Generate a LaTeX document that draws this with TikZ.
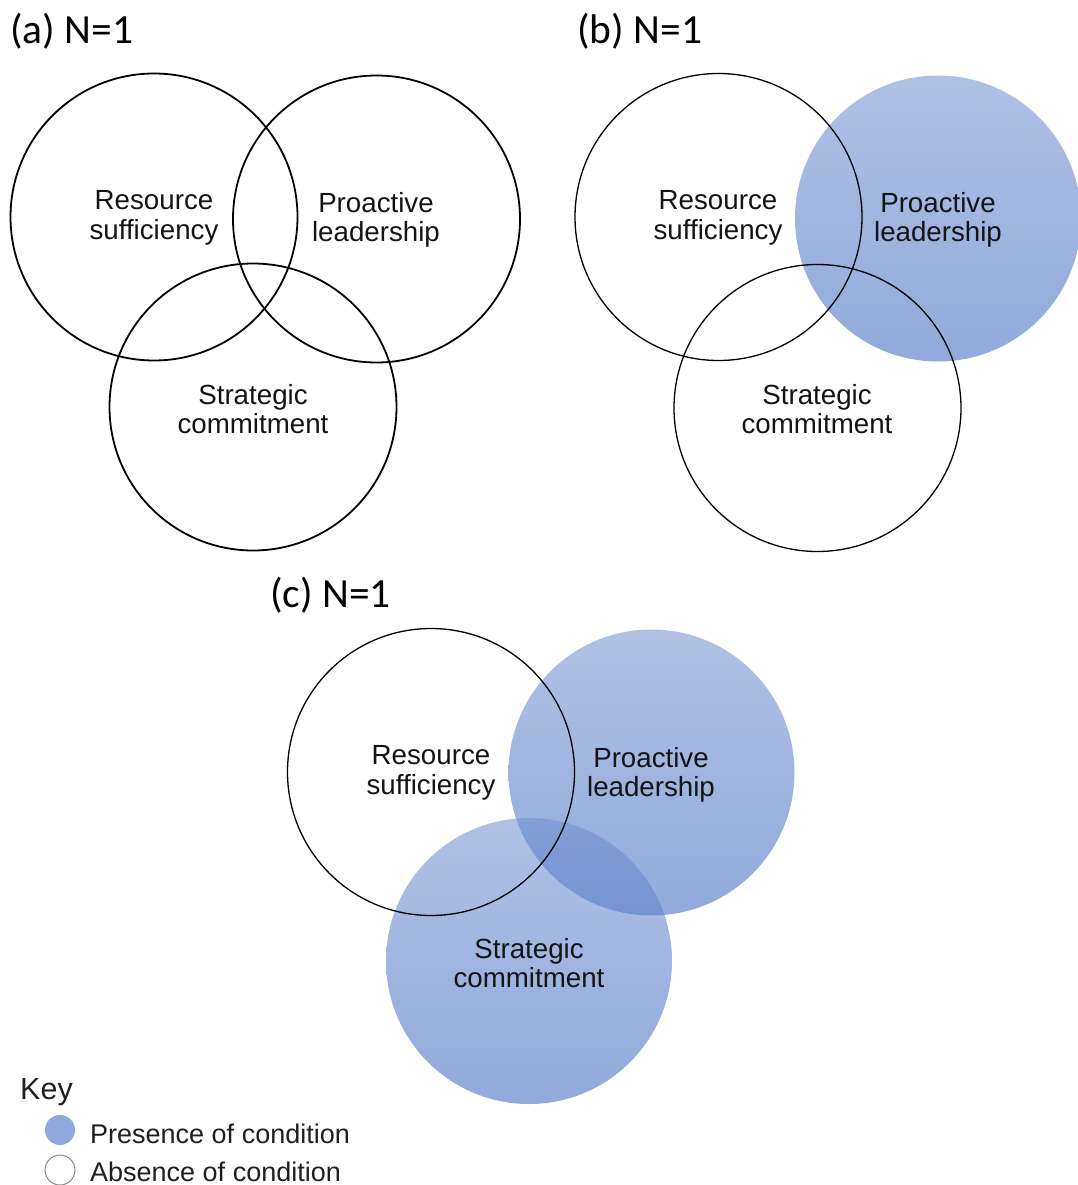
\documentclass[tikz,border=0pt]{standalone}
\usepackage{fontspec}
\setmainfont{Liberation Sans}
\newfontfamily\titlefont{Carlito}
\begin{document}
\begin{tikzpicture}[x=1pt,y=-1pt,
  ring/.style={circle, draw=black, line width=#1, minimum size=287pt, inner sep=0pt},
  ring/.default=1.3pt,
  present/.style={circle, minimum size=286pt, inner sep=0pt, draw=none,
    top color=blueTop, bottom color=blueBot, fill opacity=0.57, text opacity=1},
  lab/.style={font=\fontsize{27.7}{29.5}\selectfont, align=center, text=black!92},
  ttl/.style={font=\titlefont\fontsize{41.5}{43}\selectfont, anchor=west, inner sep=0pt},
  keytxt/.style={font=\fontsize{27}{29}\selectfont, anchor=west, inner sep=0pt, text=black!88}]
\definecolor{blueTop}{RGB}{115,145,209}
\definecolor{blueBot}{RGB}{60,106,192}
\definecolor{keyBlue}{RGB}{142,169,219}
\useasboundingbox (0,0) rectangle (1078,1185);

% (a) all conditions absent
\node[ttl] (ta) at (10,31) {(a) N=1};
\node[ring=1.8pt] (aR) at (154,217) {};
\node[ring=1.8pt] (aP) at (376.5,219) {};
\node[ring=1.8pt] (aS) at (253,407) {};
\node[lab] (laR) at (154,218) {Resource\\sufficiency};
\node[lab] (laP) at (376,220) {Proactive\\leadership};
\node[lab] (laS) at (253,409) {Strategic\\commitment};

% (b) proactive leadership present
\node[ttl] (tb) at (577,31) {(b) N=1};
\node[present] (bP) at (938,218.5) {};
\node[ring] (bR) at (718.5,217) {};
\node[ring] (bS) at (817.5,408) {};
\node[lab] (lbR) at (718,218) {Resource\\sufficiency};
\node[lab] (lbP) at (938,220) {Proactive\\leadership};
\node[lab] (lbS) at (817,409) {Strategic\\commitment};

% (c) proactive leadership and strategic commitment present
\node[ttl] (tc) at (270,595) {(c) N=1};
\node[present] (cP) at (651.5,772.5) {};
\node[present] (cS) at (529,961) {};
\node[ring] (cR) at (431,772) {};
\node[lab] (lcR) at (431,773) {Resource\\sufficiency};
\node[lab] (lcP) at (651,775) {Proactive\\leadership};
\node[lab] (lcS) at (529,963) {Strategic\\commitment};

% key
\node[font=\fontsize{30.5}{32}\selectfont, anchor=west, inner sep=0pt, text=black!88] (key) at (20,1092) {Key};
\node[circle, fill=keyBlue, minimum size=30pt, inner sep=0pt] (kP) at (60,1130) {};
\node[circle, draw=black!45, line width=1pt, minimum size=30pt, inner sep=0pt] (kA) at (60,1170) {};
\node[keytxt] (kPt) at (90,1134) {Presence of condition};
\node[keytxt] (kAt) at (90,1172) {Absence of condition};
\end{tikzpicture}
\end{document}
